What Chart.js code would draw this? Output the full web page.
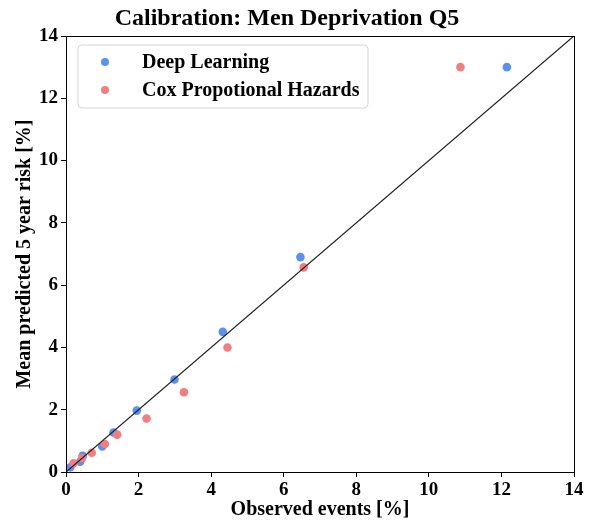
<!DOCTYPE html>
<html>
<head>
<meta charset="utf-8">
<script src="https://cdn.jsdelivr.net/npm/chart.js@4.4.0/dist/chart.umd.min.js"></script>
<style>
  html, body { margin: 0; padding: 0; background: #fff; }
  #wrap { width: 595px; height: 524px; }
</style>
</head>
<body>
<div id="wrap"><canvas id="c" width="595" height="524"></canvas></div>
<script>
const titleText = 'Calibration: Men Deprivation Q5';
const xLabel = 'Observed events [%]';
const yLabel = 'Mean predicted 5 year risk [%]';
const seriesNames = ['Deep Learning', 'Cox Propotional Hazards'];
const dlObserved = [0.12, 0.39, 0.46, 1.0, 1.31, 1.95, 2.99, 4.32, 6.46, 12.15];
const dlPredicted = [0.15, 0.33, 0.52, 0.82, 1.27, 1.97, 2.97, 4.5, 6.9, 13.0];
const coxObserved = [0.21, 0.44, 0.71, 1.07, 1.41, 2.22, 3.25, 4.45, 6.55, 10.87];
const coxPredicted = [0.28, 0.44, 0.62, 0.9, 1.2, 1.72, 2.56, 4.0, 6.57, 13.0];
const diagonal = [0, 14];
const axisMin = 0, axisMax = 14, tickStep = 2;

const FONT = '"Liberation Serif", "Times New Roman", serif';
const BLUE = '#5b8ff0';
const RED = '#f07f7f';

const toPts = (xs, ys) => xs.map((x, i) => ({ x, y: ys[i] }));

const framePlugin = {
  id: 'frame',
  afterDatasetsDraw(chart) {
    const { ctx, chartArea: a } = chart;
    ctx.save();
    ctx.strokeStyle = '#000';
    ctx.lineWidth = 1;
    ctx.strokeRect(Math.round(a.left) + 0.5, Math.round(a.top) + 0.5,
                   Math.round(a.right - a.left), Math.round(a.bottom - a.top));
    ctx.restore();
  }
};

const legendPlugin = {
  id: 'boxLegend',
  afterDraw(chart) {
    const { ctx, chartArea: a } = chart;
    const x0 = a.left + 12, y0 = a.top + 9, w = 290, h = 63, r = 4;
    ctx.save();
    ctx.beginPath();
    ctx.moveTo(x0 + r, y0);
    ctx.arcTo(x0 + w, y0, x0 + w, y0 + h, r);
    ctx.arcTo(x0 + w, y0 + h, x0, y0 + h, r);
    ctx.arcTo(x0, y0 + h, x0, y0, r);
    ctx.arcTo(x0, y0, x0 + w, y0, r);
    ctx.closePath();
    ctx.fillStyle = 'rgba(255,255,255,0.8)';
    ctx.fill();
    ctx.strokeStyle = '#d6d6d6';
    ctx.lineWidth = 1;
    ctx.stroke();
    const items = seriesNames.map(n => chart.data.datasets.find(d => d.label === n));
    items.forEach((d, i) => {
      const cy = y0 + 17 + i * 28;
      ctx.beginPath();
      ctx.arc(x0 + 27, cy, 4, 0, Math.PI * 2);
      ctx.fillStyle = d.backgroundColor;
      ctx.fill();
      ctx.fillStyle = '#000';
      ctx.font = 'bold 20px ' + FONT;
      ctx.textBaseline = 'middle';
      ctx.textAlign = 'left';
      ctx.fillText(d.label, x0 + 64, cy + 1);
    });
    ctx.restore();
  }
};

new Chart(document.getElementById('c'), {
  type: 'scatter',
  data: {
    datasets: [
      {
        type: 'line',
        label: 'diag',
        data: toPts(diagonal, diagonal),
        borderColor: '#222',
        borderWidth: 1.3,
        pointRadius: 0,
        fill: false,
        order: 0
      },
      {
        label: seriesNames[1],
        data: toPts(coxObserved, coxPredicted),
        backgroundColor: RED,
        borderWidth: 0,
        pointRadius: 4.3,
        order: 1
      },
      {
        label: seriesNames[0],
        data: toPts(dlObserved, dlPredicted),
        backgroundColor: BLUE,
        borderWidth: 0,
        pointRadius: 4.3,
        order: 2
      }
    ]
  },
  options: {
    responsive: false,
    animation: false,
    devicePixelRatio: 1,
    layout: { padding: { left: 0, right: 21, top: 0, bottom: 0 } },
    plugins: {
      legend: { display: false },
      tooltip: { enabled: false },
      title: {
        display: true,
        text: titleText,
        color: '#000',
        font: { family: FONT, size: 24, weight: 'bold', lineHeight: 1.2 },
        padding: { top: 4.5, bottom: 2.7 }
      }
    },
    scales: {
      x: {
        type: 'linear',
        min: axisMin, max: axisMax,
        afterFit(s) { s.height = 52; },
        ticks: {
          stepSize: tickStep,
          color: '#000',
          padding: 2,
          maxRotation: 0,
          font: { family: FONT, size: 19, weight: 'bold' }
        },
        grid: { drawOnChartArea: false, drawTicks: true, tickLength: 5, tickColor: '#000', color: '#000' },
        border: { display: true, color: '#000', width: 1 },
        title: {
          display: true,
          text: xLabel,
          color: '#000',
          font: { family: FONT, size: 20, weight: 'bold', lineHeight: 1.2 },
          padding: { top: 0, bottom: 2 }
        }
      },
      y: {
        type: 'linear',
        min: axisMin, max: axisMax,
        afterFit(s) { s.width = 66; },
        ticks: {
          stepSize: tickStep,
          color: '#000',
          padding: 3,
          font: { family: FONT, size: 19, weight: 'bold' }
        },
        grid: { drawOnChartArea: false, drawTicks: true, tickLength: 5, tickColor: '#000', color: '#000' },
        border: { display: true, color: '#000', width: 1 },
        title: {
          display: true,
          text: yLabel,
          color: '#000',
          font: { family: FONT, size: 20, weight: 'bold', lineHeight: 1.2 },
          padding: { top: 13, bottom: 0 }
        }
      }
    }
  },
  plugins: [framePlugin, legendPlugin]
});
</script>
</body>
</html>
